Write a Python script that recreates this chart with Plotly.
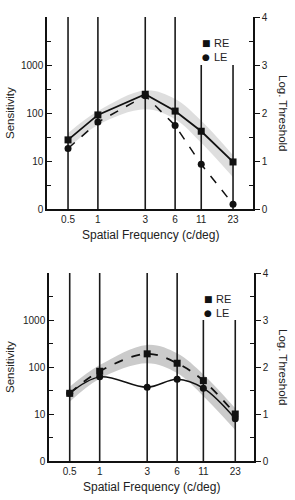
import plotly.graph_objects as go

# ---- data (log10 units; sensitivity axis 0..4 = 1..10000) ----
freqs = [0.5, 1, 3, 6, 11, 23]
freq_labels = ["0.5", "1", "3", "6", "11", "23"]
line_tops = [4, 4, 4, 4, 3, 3]

# normal range band
norm_upper = [1.58, 2.04, 2.47, 2.29, 1.84, 1.12]
norm_lower = [1.26, 1.75, 2.08, 1.87, 1.38, 0.66]

# top panel
top_re = [1.44, 1.96, 2.39, 2.04, 1.62, 0.98]
top_le = [1.26, 1.81, 2.36, 1.74, 0.93, 0.10]

# bottom panel
bot_re = [1.44, 1.91, 2.28, 2.08, 1.71, 1.00]
bot_le = [1.44, 1.79, 1.57, 1.74, 1.55, 0.90]

left_tickvals = [0, 1, 2, 3]
left_ticktext = ["0", "10", "100", "1000"]
right_tickvals = [0, 1, 2, 3, 4]
right_ticktext = ["0", "1", "2", "3", "4"]
minor_vals = [0.5, 1.5, 2.5, 3.5]

FONT = "Liberation Sans, Arial, sans-serif"
W, H = 295, 500

fig = go.Figure()


def add_panel(xa, ya, ya_r, re_vals, le_vals, shape, band_color, re_dash, le_dash):
    # band
    fig.add_trace(go.Scatter(x=freqs, y=norm_upper, mode="lines",
                             line=dict(width=0, shape="spline"),
                             xaxis=xa, yaxis=ya, showlegend=False, hoverinfo="skip"))
    fig.add_trace(go.Scatter(x=freqs, y=norm_lower, mode="lines",
                             line=dict(width=0, shape="spline"), fill="tonexty",
                             fillcolor=band_color,
                             xaxis=xa, yaxis=ya, showlegend=False, hoverinfo="skip"))
    # vertical chart lines
    vx, vy = [], []
    for f, t in zip(freqs, line_tops):
        vx += [f, f, None]
        vy += [0, t, None]
    fig.add_trace(go.Scatter(x=vx, y=vy, mode="lines",
                             line=dict(color="#1a1a1a", width=1.6),
                             xaxis=xa, yaxis=ya, showlegend=False, hoverinfo="skip"))
    # data
    fig.add_trace(go.Scatter(x=freqs, y=le_vals, mode="lines+markers", name="LE",
                             line=dict(color="#111", width=1.5, dash=le_dash, shape=shape),
                             marker=dict(symbol="circle", size=7, color="#111"),
                             xaxis=xa, yaxis=ya, showlegend=False))
    fig.add_trace(go.Scatter(x=freqs, y=re_vals, mode="lines+markers", name="RE",
                             line=dict(color="#111", width=1.8, dash=re_dash, shape=shape),
                             marker=dict(symbol="square", size=7, color="#111"),
                             xaxis=xa, yaxis=ya, showlegend=False))
    # empty trace so the right-hand (log threshold) axis is drawn
    fig.add_trace(go.Scatter(x=freqs, y=[None] * len(freqs), mode="lines",
                             xaxis=xa, yaxis=ya_r, showlegend=False, hoverinfo="skip"))


add_panel("x", "y", "y2", top_re, top_le, "linear", "rgba(200,200,200,0.6)", "solid", "dash")
add_panel("x2", "y3", "y4", bot_re, bot_le, "spline", "rgba(185,185,185,0.75)", "dash", "solid")

# geometry in pixels
top_box = (47, 253, 17, 209)
bot_box = (49, 254, 273, 461)


def dom(box):
    l, r, t, b = box
    return [l / W, r / W], [1 - b / H, 1 - t / H]


txd, tyd = dom(top_box)
bxd, byd = dom(bot_box)

xcommon = dict(type="log", tickvals=freqs, ticktext=freq_labels, showline=True,
               linecolor="#111", linewidth=1.5, ticks="", showgrid=False, zeroline=False,
               automargin=False,
               tickfont=dict(size=10, family=FONT, color="#222"))
lcommon = dict(range=[0, 4], tickvals=left_tickvals, ticktext=left_ticktext,
               showline=True, linecolor="#111", linewidth=1.5, ticks="inside",
               ticklen=5, tickcolor="#111", showgrid=False, zeroline=False,
               automargin=False,
               minor=dict(tickvals=minor_vals, ticks="inside", ticklen=4, tickcolor="#111"),
               tickfont=dict(size=10, family=FONT, color="#222"))
rcommon = dict(range=[0, 4], tickvals=right_tickvals, ticktext=right_ticktext,
               showline=True, linecolor="#111", linewidth=1.5, ticks="outside",
               ticklen=5, tickcolor="#111", showgrid=False, zeroline=False, side="right",
               automargin=False,
               minor=dict(tickvals=minor_vals, ticks="inside", ticklen=4, tickcolor="#111"),
               tickfont=dict(size=10, family=FONT, color="#222"))

fig.update_layout(
    width=W, height=H, margin=dict(l=0, r=0, t=0, b=0, autoexpand=False),
    paper_bgcolor="white", plot_bgcolor="white", showlegend=False,
    xaxis=dict(xcommon, domain=txd, range=[-0.513, 1.563], anchor="y"),
    xaxis2=dict(xcommon, domain=bxd, range=[-0.509, 1.55], anchor="y3"),
    yaxis=dict(lcommon, domain=tyd, anchor="x"),
    yaxis2=dict(rcommon, anchor="x", overlaying="y"),
    yaxis3=dict(lcommon, domain=byd, anchor="x2"),
    yaxis4=dict(rcommon, anchor="x2", overlaying="y3"),
)

ann = []
for box in (top_box, bot_box):
    l, r, t, b = box
    cy = 1 - (t + b) / 2 / H
    ann.append(dict(text="Spatial Frequency (c/deg)", x=(l + r) / 2 / W, y=1 - (b + 26) / H,
                    font=dict(size=12, family=FONT, color="#222")))
    ann.append(dict(text="Sensitivity", x=10 / W, y=cy, textangle=-90,
                    font=dict(size=11.5, family=FONT, color="#222")))
    ann.append(dict(text="Log. Threshold", x=283 / W, y=cy, textangle=90,
                    font=dict(size=11.5, family=FONT, color="#222")))
    ann.append(dict(text="■", x=(l + 159) / W, y=1 - (t + 26) / H,
                    font=dict(size=9, family="DejaVu Sans", color="#111")))
    ann.append(dict(text="●", x=(l + 159) / W, y=1 - (t + 40) / H,
                    font=dict(size=9, family="DejaVu Sans", color="#111")))
    ann.append(dict(text="RE", x=(l + 165) / W, y=1 - (t + 26) / H, xanchor="left",
                    font=dict(size=11, family=FONT, color="#222")))
    ann.append(dict(text="LE", x=(l + 165) / W, y=1 - (t + 40) / H, xanchor="left",
                    font=dict(size=11, family=FONT, color="#222")))
for a in ann:
    a.update(xref="paper", yref="paper", showarrow=False)
    a.setdefault("xanchor", "center")
    a.setdefault("yanchor", "middle")
fig.update_layout(annotations=ann)

fig.write_html("out.html")
